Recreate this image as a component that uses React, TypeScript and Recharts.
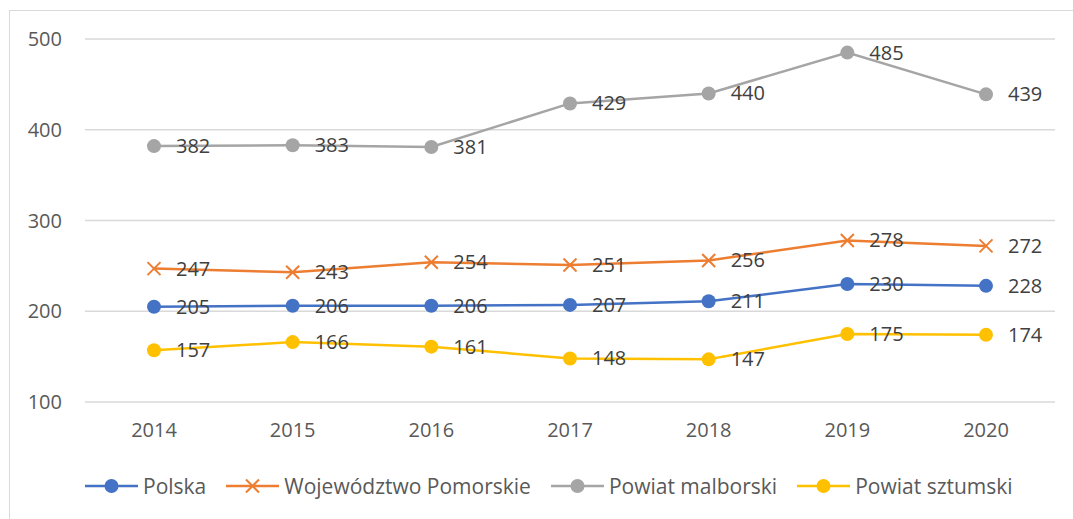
import React from "react";
import {
  CartesianGrid,
  LabelList,
  Legend,
  Line,
  LineChart,
  XAxis,
  YAxis,
} from "recharts";

const years = ["2014", "2015", "2016", "2017", "2018", "2019", "2020"];
const polska = [205, 206, 206, 207, 211, 230, 228];
const pomorskie = [247, 243, 254, 251, 256, 278, 272];
const malborski = [382, 383, 381, 429, 440, 485, 439];
const sztumski = [157, 166, 161, 148, 147, 175, 174];
const yTicks = [100, 200, 300, 400, 500];

const FONT = "'Open Sans', sans-serif";

const series = [
  { key: "polska", name: "Polska", color: "#4472C4", shape: "circle" },
  { key: "pomorskie", name: "Województwo Pomorskie", color: "#ED7D31", shape: "x" },
  { key: "malborski", name: "Powiat malborski", color: "#A5A5A5", shape: "circle" },
  { key: "sztumski", name: "Powiat sztumski", color: "#FFC000", shape: "circle" },
];

const data = years.map((y, i) => ({
  year: y,
  polska: polska[i],
  pomorskie: pomorskie[i],
  malborski: malborski[i],
  sztumski: sztumski[i],
}));

function makeDot(color: string, shape: string) {
  return (props: any) => {
    const { cx, cy, index } = props;
    if (cx == null || cy == null) return <g key={index} />;
    if (shape === "x") {
      const s = 6.5;
      return (
        <g key={index} stroke={color} strokeWidth={2}>
          <line x1={cx - s} y1={cy - s} x2={cx + s} y2={cy + s} />
          <line x1={cx - s} y1={cy + s} x2={cx + s} y2={cy - s} />
        </g>
      );
    }
    return <circle key={index} cx={cx} cy={cy} r={7} fill={color} stroke="none" />;
  };
}

const renderLabel = (props: any) => {
  const { x, y, value, index } = props;
  return (
    <text
      key={index}
      x={x + 22}
      y={y + 7}
      fill="#404040"
      fontSize={20}
      fontFamily={FONT}
    >
      {value}
    </text>
  );
};

function LegendIcon({ color, shape }: { color: string; shape: string }) {
  return (
    <svg width={53} height={20} style={{ display: "block" }}>
      <line x1={0} y1={10} x2={53} y2={10} stroke={color} strokeWidth={2.5} />
      {shape === "x" ? (
        <g stroke={color} strokeWidth={2}>
          <line x1={20} y1={3.5} x2={33} y2={16.5} />
          <line x1={20} y1={16.5} x2={33} y2={3.5} />
        </g>
      ) : (
        <circle cx={26.5} cy={10} r={7} fill={color} />
      )}
    </svg>
  );
}

const renderLegend = () => (
  <div
    style={{
      display: "flex",
      alignItems: "center",
      paddingLeft: 85,
      paddingTop: 43,
      fontFamily: FONT,
      fontSize: 21,
      color: "#595959",
    }}
  >
    {series.map((s) => (
      <div key={s.key} style={{ display: "flex", alignItems: "center", marginRight: 20 }}>
        <LegendIcon color={s.color} shape={s.shape} />
        <span style={{ marginLeft: 5, lineHeight: "22px" }}>{s.name}</span>
      </div>
    ))}
  </div>
);

export default function App() {
  return (
    <div
      style={{
        position: "absolute",
        left: 0,
        top: 0,
        width: 1073,
        height: 519,
        overflow: "hidden",
        background: "#fff",
      }}
    >
      <div
        style={{
          position: "absolute",
          left: 9,
          top: 10,
          width: 1200,
          height: 700,
          border: "1.5px solid #d9d9d9",
        }}
      />
      <div style={{ position: "absolute", left: 0, top: 0 }}>
        <LineChart
          width={1073}
          height={519}
          data={data}
          margin={{ top: 39, right: 18, left: 0, bottom: 22 }}
        >
          <CartesianGrid stroke="#d9d9d9" strokeWidth={1.5} vertical={false} />
          <XAxis
            dataKey="year"
            axisLine={false}
            tickLine={false}
            tickMargin={15}
            height={30}
            padding={{ left: 69, right: 69 }}
            tick={{ fill: "#595959", fontSize: 20, fontFamily: FONT }}
          />
          <YAxis
            domain={[100, 500]}
            ticks={yTicks}
            axisLine={false}
            tickLine={false}
            tickMargin={17}
            width={85}
            tick={{ fill: "#595959", fontSize: 20, fontFamily: FONT }}
          />
          <Legend verticalAlign="bottom" height={65} content={renderLegend} />
          {series.map((s) => (
            <Line
              key={s.key}
              type="linear"
              dataKey={s.key}
              name={s.name}
              stroke={s.color}
              strokeWidth={2.5}
              dot={makeDot(s.color, s.shape)}
              activeDot={false}
              isAnimationActive={false}
            >
              <LabelList dataKey={s.key} content={renderLabel} />
            </Line>
          ))}
        </LineChart>
      </div>
    </div>
  );
}
